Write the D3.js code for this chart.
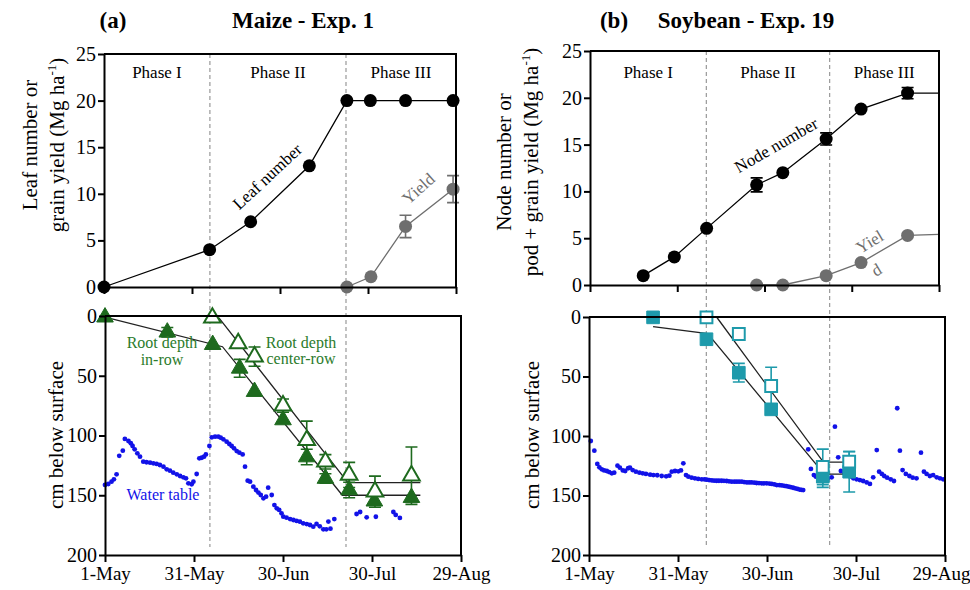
<!DOCTYPE html>
<html lang="en">
<head>
<meta charset="utf-8">
<title>Maize and soybean phases</title>
<script src="https://cdn.jsdelivr.net/npm/d3@7"></script>
<style>
  body { margin: 0; background: #fff; }
  svg text { font-family: "Liberation Serif", "DejaVu Serif", serif; }
  .axis path, .axis line { stroke: #000; stroke-width: 2; }
  .axis text { font-size: 20px; fill: #000; font-family: "Liberation Serif", serif; }
  .xaxis text { font-size: 19px; }
</style>
</head>
<body>
<script>
// ---- data (days after 1-May) ----
var xTickDays = [0, 30, 60, 90, 120];
var xTickLabels = ["1-May", "31-May", "30-Jun", "30-Jul", "29-Aug"];
var topTicks = [0, 5, 10, 15, 20, 25];
var depthTicks = [0, 50, 100, 150, 200];
var phaseNames = ["Phase I", "Phase II", "Phase III"];

var maizePhaseDays = [36.1, 82.5];
var soyPhaseDays = [40, 82.4];

// maize leaf number and grain yield
var maizeLeafDay = [0, 36, 50, 70, 82.8, 90.8, 102.8, 119];
var maizeLeafNum = [0, 4, 7, 13, 20, 20, 20, 20];
var maizeYieldDay = [82.8, 91, 102.8, 119];
var maizeYield = [0, 1.1, 6.5, 10.5];
var maizeYieldErr = [0, 0, 1.2, 1.45];

// maize root depth
var maizeInRowDay = [0, 21, 36.3, 45.4, 50.4, 60, 68, 74.3, 82.3, 90.8, 103.3];
var maizeInRowDepth = [1, 13.6, 24, 43.8, 63.3, 87, 118, 136, 145.6, 155, 152];
var maizeInRowErr = [0, 4, 0, 7.5, 0, 0, 6.5, 4, 6.5, 0, 0];
var maizeCenterDay = [36.2, 44.9, 50.4, 60, 68, 74.3, 82.3, 91, 103.3];
var maizeCenterDepth = [1.5, 23, 34, 75, 104, 122, 133, 147, 133.6];
var maizeCenterErr = [0, 0, 8, 5.5, 16, 6, 10.5, 13, 24];
var maizeInRowFitDay = [0, 39.6, 80, 106.3];
var maizeInRowFitDepth = [1, 25.7, 150, 150];
var maizeCenterFitDay = [38.4, 81.9, 106.3];
var maizeCenterFitDepth = [1.5, 139.5, 139.5];

// maize water table
var maizeWaterDay = [0, 1.1, 2.2, 3.0, 3.9, 4.8, 6.0, 6.7, 7.9, 8.7, 9.3, 10.0, 10.9, 11.8, 12.9, 14.0, 15.2, 16.3, 17.4, 18.5,
  19.7, 20.8, 21.9, 23.0, 24.2, 25.3, 26.4, 27.3, 28.1, 29.2, 29.8, 30.9, 31.8, 32.6, 33.4, 34.0, 35.2, 36.0, 37.1, 38.2,
  39.0, 39.9, 41.0, 41.9, 42.7, 43.5, 44.4, 45.3, 46.4, 47.2, 48.1, 48.9, 50.0, 50.9, 51.7, 52.5, 53.4, 54.3, 55.0, 56.2,
  57.1, 57.9, 58.7, 59.5, 60.1, 61.2, 62.4, 63.5, 64.6, 65.7, 66.8, 68.0, 69.1, 70.2, 71.3, 72.4, 73.6, 74.6, 75.3, 76.0,
  77.3, 84.8, 86.0, 88.2, 91.3, 97.2, 98.0, 99.4];
var maizeWaterDepth = [141.4, 140.6, 138.6, 136.7, 132.5, 117, 112.7, 102.9, 104.6, 106.5, 108.8, 111.6, 114.9, 117.7, 121.9, 122.4, 122.7, 123.3, 123.8, 124.7,
  126.1, 128.3, 129.4, 131.1, 132.5, 133.9, 135, 135.8, 140, 140.8, 138.6, 132.2, 119.1, 118.6, 117.7, 115.8, 108.8, 101.5, 101, 101,
  101.8, 103.2, 105.2, 107.1, 108.8, 110.7, 113, 114.4, 115.8, 126.1, 137.8, 138.6, 142.8, 145.6, 147.8, 149.8, 152.6, 151.2, 143.7, 149.8,
  158.2, 160.9, 162.3, 165.1, 167.9, 168.8, 169.9, 170.7, 171.5, 172.1, 173.5, 174.1, 174.9, 176.3, 174, 176, 178.5, 178.5, 172, 178,
  169.9, 165.7, 164, 168.5, 168, 164, 166.5, 169];

// soybean node number and pod + grain yield
var soyNodeDay = [18.3, 29, 40.1, 57.3, 66.3, 81.2, 93.2, 109.2];
var soyNode = [1, 3, 6.05, 10.7, 12, 15.6, 18.8, 20.5];
var soyNodeErr = [0, 0, 0, 0.75, 0, 0.65, 0, 0.6];
var soyYieldDay = [57.3, 66.3, 81.2, 93.2, 109.2];
var soyYield = [0, 0, 1.0, 2.4, 5.3];
var soyLineEndDay = 120;
var soyNodeEnd = 20.5;
var soyYieldEnd = 5.4;

// soybean root depth
var soyInRowDay = [21.6, 39.6, 50.5, 61.4, 78.8, 87.7];
var soyInRowDepth = [0.3, 18.7, 46.8, 77.6, 134.2, 130];
var soyInRowErr = [0, 0, 7.8, 0, 9, 17];
var soyCenterDay = [39.6, 50.5, 61.4, 78.8, 87.7];
var soyCenterDepth = [0.3, 14.3, 58, 126, 121.6];
var soyCenterErr = [0, 0, 15.8, 15, 8.5];
var soyInRowFitDay = [21.6, 40, 79.3, 87.7];
var soyInRowFitDepth = [8, 14, 132, 132];
var soyCenterFitDay = [43, 79, 87.7];
var soyCenterFitDepth = [0, 122, 122];

// soybean water table
var soyWaterDay = [0.6, 1.8, 2.8, 3.5, 4.3, 5.1, 6.0, 6.8, 7.7, 8.5, 9.6, 10.4, 11.4, 12.2, 13.2, 13.8, 14.7, 15.8, 17.0, 18.1,
  19.2, 20.6, 21.7, 23.0, 24.5, 26.0, 27.1, 27.9, 29.0, 30.1, 31.0, 31.8, 32.7, 33.5, 34.6, 35.7, 36.8, 38.0, 39.0, 39.7,
  40.5, 41.4, 42.2, 43.0, 43.8, 44.7, 45.5, 46.4, 47.2, 48.1, 49.0, 49.8, 50.6, 51.5, 52.3, 53.2, 54.0, 54.8, 55.7, 56.5,
  57.3, 58.2, 59.0, 59.9, 60.8, 61.6, 62.5, 63.3, 64.2, 65.0, 65.8, 66.5, 67.3, 68.0, 68.8, 69.5, 70.3, 71.0, 71.6, 72.2,
  73.9, 74.8, 75.8, 76.5, 77.5, 78.5, 79.5, 80.5, 81.8, 82.9, 84.0, 84.9, 86.0, 87.0, 88.0, 89.1, 90.2, 91.3, 92.4, 93.6,
  94.7, 95.8, 97.0, 97.8, 98.7, 99.5, 100.5, 101.7, 102.8, 103.9, 104.8, 105.7, 106.8, 108.0, 109.1, 110.4, 111.9, 112.9, 113.8, 114.9,
  116.0, 117.2, 118.3, 119.4];
var soyWaterDepth = [104.2, 112.3, 123.5, 126.3, 128, 128.9, 129.4, 130.3, 131.4, 130.8, 124.9, 126.6, 128.9, 129.4, 127.1, 126.6, 128.6, 130, 130.8, 131.4,
  131.9, 132.5, 132.8, 133, 133.6, 133.9, 133.3, 130, 129.4, 129.7, 128.9, 123, 132.8, 134.2, 135, 135.6, 136.1, 136.4, 136.5, 136.7,
  137, 137.3, 137.5, 137.6, 137.6, 137.6, 137.7, 137.8, 138.1, 138.4, 138.4, 138.4, 138.4, 138.4, 138.7, 139, 139, 139, 139.2, 139.5,
  139.6, 139.8, 139.8, 139.8, 140, 140.3, 140.7, 141.2, 141.3, 141.5, 141.9, 142.2, 142.6, 143, 143.5, 144, 144.5, 145, 145.2, 145.4,
  111.2, 127.7, 132.8, 134.2, 136, 137, 137, 135.5, 134.7, 92.2, 117.9, 129.4, 131, 132.5, 134, 135.6, 136.4, 137, 137.8, 139,
  140.3, 134.7, 111.8, 130, 131.9, 133.6, 135, 136.4, 137.8, 76.7, 112.3, 128.6, 131.9, 133.6, 135, 135.6, 114, 130, 131.9, 133.6,
  132.8, 134.7, 135.6, 136.4];

// ---- drawing ----
var W = 970, H = 590;
var green = "#1e6a1e", greenText = "#2b7b2b", teal = "#1e9aab", blue = "#1212e8", grey = "#6e6e6e";

var svg = d3.select("body").append("svg")
  .attr("width", W).attr("height", H);
svg.append("rect").attr("width", W).attr("height", H).attr("fill", "#fff");

function zip(xs, ys, es) {
  return xs.map(function(d, i) { return {x: d, y: ys[i], e: es ? es[i] : 0}; });
}

// panel scales
var panels = {
  maizeTop: {x: d3.scaleLinear().domain([0, 120]).range([104, 456]), y: d3.scaleLinear().domain([0, 25]).range([287, 54])},
  maizeBot: {x: d3.scaleLinear().domain([0, 120]).range([105, 461]), y: d3.scaleLinear().domain([0, 200]).range([316, 555])},
  soyTop: {x: d3.scaleLinear().domain([0, 120]).range([590, 939]), y: d3.scaleLinear().domain([0, 25]).range([285, 51])},
  soyBot: {x: d3.scaleLinear().domain([0, 120]).range([589, 945]), y: d3.scaleLinear().domain([0, 200]).range([317, 555])}
};

function frame(p, ticks, labels) {
  var x = p.x, y = p.y;
  var x0 = x.range()[0], x1 = x.range()[1], yb = y.range()[0], yt = y.range()[1];
  var top = Math.min(yb, yt), bottom = Math.max(yb, yt);
  // right + top border
  svg.append("path")
    .attr("d", "M" + x0 + "," + top + "H" + x1 + "V" + bottom)
    .attr("fill", "none").attr("stroke", "#000").attr("stroke-width", 2);
  svg.append("g").attr("class", "axis")
    .attr("transform", "translate(" + x0 + ",0)")
    .call(d3.axisLeft(y).tickValues(ticks).tickSize(6).tickPadding(2).tickSizeOuter(0));
  var xa = d3.axisBottom(x).tickValues(xTickDays).tickSize(7).tickSizeOuter(0).tickPadding(5)
    .tickFormat(function(d, i) { return labels ? xTickLabels[i] : ""; });
  var g = svg.append("g").attr("class", "axis xaxis")
    .attr("transform", "translate(0," + bottom + ")")
    .call(xa);
  // keep the last date inside the picture
  if (labels && x1 > 940) g.selectAll(".tick:last-of-type text").attr("dx", -4);
}

function phaseLines(p, days, yTop, yBottom) {
  svg.selectAll(null).data(days).enter().append("line")
    .attr("x1", function(d) { return p.x(d); }).attr("x2", function(d) { return p.x(d); })
    .attr("y1", yTop).attr("y2", yBottom)
    .attr("stroke", "#999").attr("stroke-width", 1.2).attr("stroke-dasharray", "4,3");
}

function phaseLabels(p, days, yPos) {
  var edges = [0].concat(days).concat([120]);
  svg.selectAll(null).data(phaseNames).enter().append("text")
    .attr("x", function(d, i) { return p.x((edges[i] + edges[i + 1]) / 2); })
    .attr("y", yPos)
    .attr("text-anchor", "middle").attr("font-size", 17)
    .text(function(d) { return d; });
}

function line(p, pts, color, width) {
  svg.append("path")
    .datum(pts)
    .attr("d", d3.line().x(function(d) { return p.x(d.x); }).y(function(d) { return p.y(d.y); }))
    .attr("fill", "none").attr("stroke", color).attr("stroke-width", width || 1.3);
}

function errBars(p, pts, color) {
  var g = svg.append("g").attr("stroke", color).attr("stroke-width", 1.6).attr("fill", "none");
  pts.filter(function(d) { return d.e > 0; }).forEach(function(d) {
    var cx = p.x(d.x), a = p.y(d.y - d.e), b = p.y(d.y + d.e);
    g.append("path").attr("d", "M" + cx + "," + a + "V" + b +
      "M" + (cx - 6) + "," + a + "H" + (cx + 6) + "M" + (cx - 6) + "," + b + "H" + (cx + 6));
  });
}

function circles(p, pts, color, r) {
  svg.selectAll(null).data(pts).enter().append("circle")
    .attr("cx", function(d) { return p.x(d.x); }).attr("cy", function(d) { return p.y(d.y); })
    .attr("r", r).attr("fill", color);
}

function symbols(p, pts, type, size, color, open) {
  svg.selectAll(null).data(pts).enter().append("path")
    .attr("d", d3.symbol().type(type).size(size))
    .attr("transform", function(d) { return "translate(" + p.x(d.x) + "," + p.y(d.y) + ")"; })
    .attr("fill", open ? "#fff" : color)
    .attr("stroke", color).attr("stroke-width", open ? 2 : 1);
}

function rotText(x, y, angle, txt, color, size) {
  svg.append("text")
    .attr("transform", "translate(" + x + "," + y + ") rotate(" + angle + ")")
    .attr("text-anchor", "middle").attr("font-size", size).attr("fill", color)
    .text(txt);
}

function yLabel(x, y, lines) {
  var t = svg.append("text")
    .attr("transform", "translate(" + x + "," + y + ") rotate(-90)")
    .attr("text-anchor", "middle").attr("font-size", 21);
  lines.forEach(function(l, i) {
    var ts = t.append("tspan").attr("x", 0).attr("dy", i === 0 ? 0 : 27);
    if (l.indexOf("^") >= 0) {
      var parts = l.split("^");
      ts.text(parts[0]);
      t.append("tspan").attr("dy", -8).attr("font-size", 13).text(parts[1].replace(")", ""));
      t.append("tspan").attr("dy", 8).text(")");
    } else {
      ts.text(l);
    }
  });
}

// ---------- Maize ----------
var mt = panels.maizeTop, mb = panels.maizeBot;
phaseLines(mt, maizePhaseDays, 54, 547);
phaseLabels(mt, maizePhaseDays, 78);

line(mt, zip(maizeLeafDay, maizeLeafNum), "#000");
line(mt, zip(maizeYieldDay, maizeYield), grey);
errBars(mt, zip(maizeYieldDay, maizeYield, maizeYieldErr), grey);
circles(mt, zip(maizeLeafDay, maizeLeafNum), "#000", 6.5);
circles(mt, zip(maizeYieldDay, maizeYield), grey, 6.5);
rotText(mt.x(57), mt.y(11.4), -43, "Leaf number", "#000", 17);
rotText(mt.x(108.5), mt.y(10.1), -42, "Yield", grey, 17);

circles(mb, zip(maizeWaterDay, maizeWaterDepth), blue, 2.4);
line(mb, zip(maizeInRowFitDay, maizeInRowFitDepth), "#222");
line(mb, zip(maizeCenterFitDay, maizeCenterFitDepth), "#222");
errBars(mb, zip(maizeInRowDay, maizeInRowDepth, maizeInRowErr), green);
errBars(mb, zip(maizeCenterDay, maizeCenterDepth, maizeCenterErr), green);
symbols(mb, zip(maizeInRowDay, maizeInRowDepth), d3.symbolTriangle, 120, green, false);
symbols(mb, zip(maizeCenterDay, maizeCenterDepth), d3.symbolTriangle, 120, green, true);

svg.append("text").attr("x", 162).attr("y", 348).attr("text-anchor", "middle")
  .attr("font-size", 16).attr("fill", greenText).text("Root depth");
svg.append("text").attr("x", 162).attr("y", 365).attr("text-anchor", "middle")
  .attr("font-size", 16).attr("fill", greenText).text("in-row");
svg.append("text").attr("x", 301).attr("y", 348).attr("text-anchor", "middle")
  .attr("font-size", 16).attr("fill", greenText).text("Root depth");
svg.append("text").attr("x", 301).attr("y", 364).attr("text-anchor", "middle")
  .attr("font-size", 16).attr("fill", greenText).text("center-row");
svg.append("text").attr("x", 163).attr("y", 500).attr("text-anchor", "middle")
  .attr("font-size", 16).attr("fill", blue).text("Water table");

frame(mt, topTicks, false);
frame(mb, depthTicks, true);

// ---------- Soybean ----------
var st = panels.soyTop, sb = panels.soyBot;
phaseLines(st, soyPhaseDays, 51, 547);
phaseLabels(st, soyPhaseDays, 78);

var nodeLine = zip(soyNodeDay, soyNode).concat([{x: soyLineEndDay, y: soyNodeEnd}]);
var yieldLine = zip(soyYieldDay, soyYield).concat([{x: soyLineEndDay, y: soyYieldEnd}]);
line(st, nodeLine, "#000");
line(st, yieldLine, grey);
errBars(st, zip(soyNodeDay, soyNode, soyNodeErr), "#000");
circles(st, zip(soyNodeDay, soyNode), "#000", 6.5);
circles(st, zip(soyYieldDay, soyYield), grey, 6.5);
rotText(st.x(65), st.y(14.4), -30, "Node number", "#000", 17);
rotText(st.x(97.2), st.y(4.1), -31, "Yiel", grey, 17);
rotText(st.x(99.5), st.y(1.1), -31, "d", grey, 17);

circles(sb, zip(soyWaterDay, soyWaterDepth), blue, 2.4);
line(sb, zip(soyInRowFitDay, soyInRowFitDepth), "#222");
line(sb, zip(soyCenterFitDay, soyCenterFitDepth), "#222");
errBars(sb, zip(soyInRowDay, soyInRowDepth, soyInRowErr), teal);
errBars(sb, zip(soyCenterDay, soyCenterDepth, soyCenterErr), teal);
symbols(sb, zip(soyInRowDay, soyInRowDepth), d3.symbolSquare, 160, teal, false);
symbols(sb, zip(soyCenterDay, soyCenterDepth), d3.symbolSquare, 140, teal, true);

frame(st, topTicks, false);
frame(sb, depthTicks, true);

// ---------- titles and axis titles ----------
svg.append("text").attr("x", 113).attr("y", 28).attr("text-anchor", "middle")
  .attr("font-size", 23).attr("font-weight", "bold").text("(a)");
svg.append("text").attr("x", 303).attr("y", 28).attr("text-anchor", "middle")
  .attr("font-size", 23).attr("font-weight", "bold").text("Maize - Exp. 1");
svg.append("text").attr("x", 614).attr("y", 28).attr("text-anchor", "middle")
  .attr("font-size", 23).attr("font-weight", "bold").text("(b)");
svg.append("text").attr("x", 746).attr("y", 28).attr("text-anchor", "middle")
  .attr("font-size", 23).attr("font-weight", "bold").text("Soybean -  Exp. 19");

yLabel(37, 145, ["Leaf number or", "grain yield (Mg ha^-1)"]);
yLabel(63, 435, ["cm below surface"]);
yLabel(511, 162, ["Node number or", "pod + grain yield (Mg ha^-1)"]);
yLabel(539, 435, ["cm below surface"]);
</script>
</body>
</html>
